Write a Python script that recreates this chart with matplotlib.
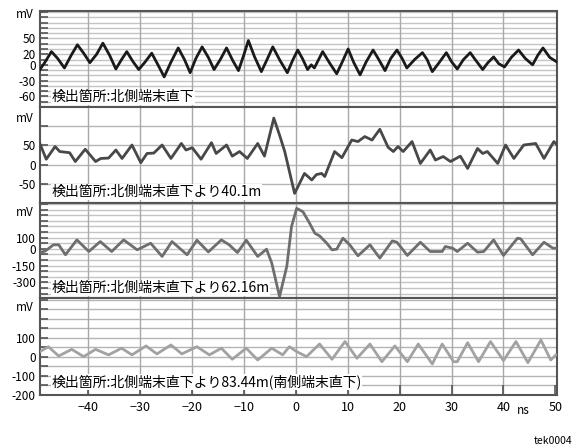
import numpy as np
import matplotlib
matplotlib.use("Agg")
import matplotlib.pyplot as plt

plt.rcParams['font.family'] = ['Noto Sans CJK JP', 'DejaVu Sans']

# ---- data (time in ns, voltage in mV) ----
t1 = [-49.5, -48.3, -47.0, -45.8, -44.5, -43.2, -42.0, -40.8, -39.6, -38.3,
      -37.1, -35.8, -34.6, -33.5, -32.5, -31.3, -30.2, -29.0, -27.7, -26.5,
      -25.3, -24.0, -22.6, -21.4, -20.3, -19.2, -18.0, -16.8, -15.7, -14.5,
      -13.3, -12.1, -11.0, -10.0, -9.1, -7.9, -6.6, -5.5, -4.4, -3.0,
      -1.6, -0.6, 0.4, 1.3, 2.3, 3.0, 3.6, 5.2, 6.5, 7.9,
      9.0, 10.1, 11.2, 12.4, 13.6, 14.9, 16.0, 17.2, 18.3, 19.5,
      20.5, 21.4, 22.9, 24.4, 25.3, 26.3, 27.6, 29.0, 30.0, 31.1,
      32.3, 33.6, 34.4, 36.0, 37.0, 38.1, 39.1, 40.2, 41.5, 42.9,
      44.2, 45.6, 46.6, 47.6, 48.9, 50.5]
v1 = [-13, 4, 25, 12, -6, 18, 38, 22, 4, 20,
      41, 18, -8, 10, 25, 6, -9, 5, 22, 0,
      -23, 5, 32, 10, -15, 12, 34, 14, -9, 10,
      32, 8, -11, 18, 46, 15, -13, 10, 34, 8,
      -15, 8, 28, 12, -9, 0, -6, 25, 4, -17,
      6, 30, 4, -19, 6, 28, 10, -11, 12, 28,
      12, -6, 10, 23, 10, -13, 4, 23, 6, -8,
      10, 23, 12, -9, 4, 15, 2, -4, 14, 28,
      12, 0, 18, 32, 14, 4]

t2 = [-49.5, -48.0, -46.3, -45.4, -43.5, -42.4, -40.5, -38.5, -37.5, -36.0,
      -34.6, -33.4, -31.5, -29.8, -28.6, -27.3, -25.7, -24.0, -22.0, -21.1,
      -19.9, -18.2, -16.2, -15.3, -13.3, -12.2, -10.8, -9.3, -7.3, -6.0,
      -4.2, -3.1, -2.1, -0.2, 1.7, 3.1, 4.0, 5.0, 5.6, 7.5,
      8.9, 10.8, 12.0, 13.3, 14.7, 16.2, 17.8, 18.8, 19.7, 20.7,
      22.4, 24.0, 25.9, 26.9, 28.4, 29.8, 31.7, 33.1, 35.0, 36.0,
      36.9, 38.9, 40.4, 42.0, 43.9, 46.2, 47.8, 49.7, 50.3]
v2 = [64, 14, 47, 34, 31, 8, 40, 8, 16, 17,
      38, 16, 51, 5, 29, 30, 51, 16, 55, 38,
      44, 14, 57, 29, 51, 22, 34, 16, 55, 22,
      121, 77, 34, -75, -23, -40, -26, -23, -31, 34,
      18, 64, 60, 73, 64, 92, 45, 34, 47, 34,
      60, 3, 38, 12, 21, 8, 22, -10, 42, 29,
      34, 3, 51, 16, 51, 55, 16, 60, 51]

t3 = [-49.5, -48.2, -46.6, -45.6, -44.3, -42.1, -39.8, -37.6, -35.4, -33.1,
      -30.5, -27.9, -25.7, -23.8, -20.9, -19.0, -16.8, -14.3, -12.8, -11.2,
      -9.5, -7.3, -5.6, -4.6, -3.1, -1.7, -0.8, 0.2, 1.4, 2.7,
      3.7, 4.6, 6.0, 7.0, 7.9, 9.1, 10.4, 12.0, 14.3, 16.2,
      18.6, 19.5, 21.5, 24.0, 25.9, 28.2, 28.8, 30.2, 31.1, 33.1,
      35.0, 36.2, 38.1, 40.0, 42.7, 43.3, 45.6, 47.8, 49.5, 50.3]
v3 = [-38, -20, 36, 36, -53, 80, -24, 65, -24, 80,
      -9, 50, -68, 65, -53, 77, -28, 80, 36, -33,
      77, -68, -3, -127, -427, -157, 198, 362, 332, 228,
      139, 116, 50, -9, -3, 95, 36, -62, 36, -83,
      71, 59, -59, 59, -24, -24, 21, 6, -24, 50,
      -30, -24, 80, -59, 95, 90, -53, 59, 6, 6]

t4 = [-49.5, -47.6, -45.6, -43.1, -40.8, -38.5, -36.0, -33.5, -31.5, -28.8,
      -26.7, -24.0, -21.9, -19.0, -16.6, -14.3, -12.2, -9.5, -7.3, -4.6,
      -2.5, -1.2, 0.2, 2.1, 4.6, 7.0, 9.5, 11.8, 14.3, 16.6,
      19.1, 21.5, 23.6, 26.3, 28.2, 30.4, 31.1, 33.1, 35.2, 37.5,
      40.0, 42.4, 44.7, 47.2, 49.1, 50.1]
v4 = [23, 54, 5, 40, 2, 40, 11, 46, 11, 58,
      16, 63, 16, 54, 11, 46, -12, 46, -16, 46,
      11, 54, 28, 2, 68, -12, 81, -7, 68, -25,
      58, -25, 68, -37, 68, -25, -25, 75, -25, 81,
      -19, 81, -30, 89, -16, 11]

labels = ["検出箇所:北側端末直下",
          "検出箇所:北側端末直下より40.1m",
          "検出箇所:北側端末直下より62.16m",
          "検出箇所:北側端末直下より83.44m(南側端末直下)"]
ylims = [(-80, 102), (-100, 150), (-440, 410), (-200, 310)]
grid_step = [10, 50, 50, 50]
tick_labels = [[50, 20, 0, -30, -60], [50, 0, -50],
               [100, 0, -150, -300], [100, 0, -100, -200]]
line_colors = ['#1a1a1a', '#484848', '#6e6e6e', '#a2a2a2']
grid_colors = ['#c4c4c4', '#b4b4b4', '#c4c4c4', '#b4b4b4']
mv_pos = [0.965, 0.885, 0.895, 0.897]
xticks = [-40, -30, -20, -10, 0, 10, 20, 30, 40, 50]

series = [(t1, v1), (t2, v2), (t3, v3), (t4, v4)]

W, H = 579, 448
fig = plt.figure(figsize=(W / 100, H / 100), dpi=100)
boxes = [(11, 107), (107, 203), (203, 298), (298, 395)]
left, right = 40, 557

for i, ((top, bot), (t, v)) in enumerate(zip(boxes, series)):
    ax = fig.add_axes([left / W, (H - bot) / H, (right - left) / W, (bot - top) / H])
    lo, hi = ylims[i]
    ax.set_xlim(-49.2, 50.3)
    ax.set_ylim(lo, hi)
    step = grid_step[i]
    gvals = np.arange(np.ceil(lo / step) * step, hi, step)
    for g in gvals:
        ax.axhline(g, color=grid_colors[i], lw=1.0, zorder=0)
    for x in xticks[:-1]:
        ax.axvline(x, color='#a8a8a8', lw=1.0, zorder=0)
    ax.set_yticks(gvals)
    ax.set_yticklabels([str(int(g)) if int(g) in tick_labels[i] else '' for g in gvals])
    ax.tick_params(axis='y', direction='in', length=6, width=1.2, color='#555555',
                   labelsize=8.5, pad=3)
    ax.text(-0.012, mv_pos[i], 'mV', transform=ax.transAxes, ha='right', va='center',
            fontsize=8.5)
    ax.set_xticks(xticks)
    if i == 3:
        ax.tick_params(axis='x', direction='in', length=7, width=1.2, color='#555555',
                       labelsize=9, pad=4)
    else:
        ax.tick_params(axis='x', length=0, labelbottom=False)
    for s in ax.spines.values():
        s.set_color('#555555')
        s.set_linewidth(1.5)
    ax.plot(t, v, color=line_colors[i], lw=2.0, zorder=3, solid_joinstyle='round')
    ax.text(0.022, [0.10, 0.115, 0.105, 0.134][i], labels[i], transform=ax.transAxes,
            ha='left', va='center', fontsize=10, zorder=4,
            bbox=dict(facecolor='white', edgecolor='none', pad=0.5))
    ax.set_facecolor('white')

fig.text(523 / W, 1 - 410 / H, 'ns', ha='center', va='center', fontsize=8.5)
fig.text(534 / W, 1 - 441 / H, 'tek0004', ha='left', va='center', fontsize=7.5)

fig.savefig('out.png', dpi=100)
